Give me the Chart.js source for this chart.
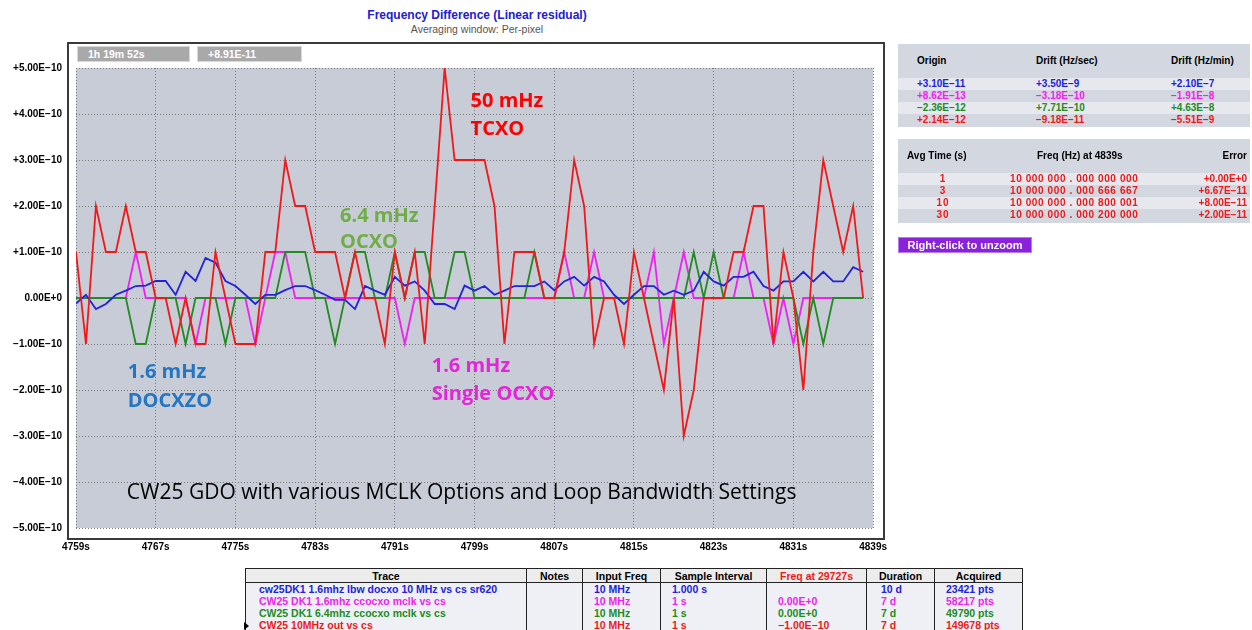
<!DOCTYPE html>
<html>
<head>
<meta charset="utf-8">
<script src="https://cdn.jsdelivr.net/npm/chart.js@4.4.1/dist/chart.umd.min.js"></script>
<style>
  body { margin: 0; width: 1252px; height: 630px; background: #fff; position: relative; overflow: hidden;
         font-family: "Liberation Sans", Arial, sans-serif; }
  .abs { position: absolute; white-space: pre; }
  .b { font-weight: bold; font-size: 10px; line-height: 12px; }
  #frame { position: absolute; left: 67px; top: 42px; width: 818px; height: 498px; box-sizing: border-box;
           border: 2px solid #3a3a3a; background: #fff; }
  #plot { position: absolute; left: 0; top: 0; }
  .chip { position: absolute; top: 46px; height: 16px; box-sizing: border-box; background: #a9a9a9;
          border: 1px solid #d8d8d8; color: #fff; font: bold 10.5px/14px "Liberation Sans", Arial, sans-serif; padding-left: 10px; }
  .panel { position: absolute; left: 898px; width: 352px; background: #d3d7e0; }
  .band { position: absolute; left: 0; width: 352px; height: 12px; background: #e6e8ee; }
  #btn { position: absolute; left: 898px; top: 237px; width: 134px; height: 16px; box-sizing: border-box;
         background: #8a22dc; border: 1px solid #b47cf0; color: #fff; font: bold 11px/14px "Liberation Sans", Arial, sans-serif; text-align: center; }
  table { position: absolute; left: 245px; top: 568px; border-collapse: collapse; table-layout: fixed;
          font: bold 10.5px "Liberation Sans", Arial, sans-serif; }
  th, td { border-left: 1px solid #222; border-right: 1px solid #222; padding: 0 0 0 11px; white-space: nowrap; overflow: hidden; }
  th { height: 13px; background: #ececec; color: #000; text-align: center; padding: 0; border: 1px solid #222; }
  td { height: 12px; line-height: 12px; background: #eef0f6; }
</style>
</head>
<body>
<div class="abs" style="left:0;width:954px;top:8px;text-align:center;color:#2020d0;font:bold 12px 'Liberation Sans',Arial,sans-serif;">Frequency Difference (Linear residual)</div>
<div class="abs" style="left:0;width:954px;top:23px;text-align:center;color:#555;font:10.5px 'Liberation Sans',Arial,sans-serif;">Averaging window: Per-pixel</div>

<div id="frame"></div>
<canvas id="plot" width="900" height="560"></canvas>
<div class="chip" style="left:77px;width:113px;">1h 19m 52s</div>
<div class="chip" style="left:197px;width:105px;">+8.91E-11</div>

<div class="panel" style="top:44px;height:83px;">
  <div class="band" style="top:34px;"></div>
  <div class="band" style="top:58px;"></div>
</div>
<div class="abs b" style="left:917px;top:55px;">Origin</div>
<div class="abs b" style="left:1036px;top:55px;">Drift (Hz/sec)</div>
<div class="abs b" style="left:1171px;top:55px;">Drift (Hz/min)</div>
<div id="driftRows"></div>

<div class="panel" style="top:139px;height:84px;">
  <div class="band" style="top:34px;"></div>
  <div class="band" style="top:58px;"></div>
</div>
<div class="abs b" style="left:907px;top:150px;">Avg Time (s)</div>
<div class="abs b" style="left:1037px;top:150px;">Freq (Hz) at 4839s</div>
<div class="abs b" style="left:1180px;width:67px;text-align:right;top:150px;">Error</div>
<div id="avgRows"></div>

<div id="btn">Right-click to unzoom</div>

<table id="traces">
  <colgroup><col style="width:281px"><col style="width:56px"><col style="width:78px"><col style="width:106px"><col style="width:100px"><col style="width:68px"><col style="width:88px"></colgroup>
  <thead><tr><th>Trace</th><th>Notes</th><th>Input Freq</th><th>Sample Interval</th><th style="color:#f01818">Freq at 29727s</th><th>Duration</th><th>Acquired</th></tr></thead>
  <tbody></tbody>
</table>
<div class="abs" style="left:244px;top:622px;width:0;height:0;border-top:4px solid transparent;border-bottom:4px solid transparent;border-left:5px solid #000;"></div>

<script>
// seconds on the x axis (one sample per second)
const seconds = [4759,4760,4761,4762,4763,4764,4765,4766,4767,4768,4769,4770,4771,4772,4773,4774,4775,4776,4777,4778,
  4779,4780,4781,4782,4783,4784,4785,4786,4787,4788,4789,4790,4791,4792,4793,4794,4795,4796,4797,4798,
  4799,4800,4801,4802,4803,4804,4805,4806,4807,4808,4809,4810,4811,4812,4813,4814,4815,4816,4817,4818,
  4819,4820,4821,4822,4823,4824,4825,4826,4827,4828,4829,4830,4831,4832,4833,4834,4835,4836,4837,4838];

// frequency difference, in units of 1e-10
const tcxo50 = [1,-1,2,1,1,2,1,1,0,0, -1,0,-1,-1,1,0,-1,-1,-1,1, 1,3,2,2,1,1,1,0,1,0,
  0,-1,1,0,1,-1,2,5,3,3, 3,3,2,-1,1,1,1,0,0,1, 3,2,-1,0,0,-1,1,0,-1,-2,
  0,-3,-2,0,0,0,1,1,2,2, -1,1,0,-2,1,3,2,1,2,0];
const docxo16 = [-0.12,0.07,-0.24,-0.13,0.07,0.16,0.26,0.27,0.37,0.37, 0.07,0.57,0.37,0.87,0.77,0.37,0.26,0.07,-0.13,0.07,
  0.07,0.17,0.26,0.26,0.17,0.07,-0.04,-0.04,-0.24,0.26, 0.16,0.07,0.46,0.27,0.36,0.16,-0.13,-0.13,-0.24,0.27,
  0.16,0.26,0.07,0.16,0.26,0.26,0.26,0.36,0.17,0.36, 0.46,0.27,0.46,0.36,0.07,-0.13,0.07,0.26,0.26,0.07,
  0.16,0.07,0.16,0.57,0.36,0.27,0.46,0.46,0.57,0.26, 0.16,0.36,0.36,0.57,0.36,0.57,0.36,0.36,0.67,0.57];
const ocxo64 = [0,0,0,0,0,0,-1,-1,0,0, 0,-1,0,0,0,-1,0,0,0,0, 0,1,1,1,0,0,-1,0,1,1,
  0,0,1,0,1,1,0,0,1,1, 0,0,0,0,0,0,1,0,0,0, 0,0,0,0,0,0,0,0,0,0,
  0,0,1,0,1,0,0,0,0,0, 0,0,0,-1,0,-1,0,0,0,0];
const ocxo16 = [0,0,0,0,0,0,1,0,0,0, 0,0,-1,0,0,0,0,0,-1,0, 1,1,0,0,0,0,0,0,0,0,
  0,0,0,-1,0,0,0,0,0,0, 0,0,0,0,0,0,0,0,0,1, 0,0,1,0,0,0,0,0,1,-1,
  0,1,0,0,0,0,0,1,0,0, -1,0,-1,0,0,0,0,0,0,0];

const xTicks = [4759,4767,4775,4783,4791,4799,4807,4815,4823,4831,4839];
const yTicks = [5,4,3,2,1,0,-1,-2,-3,-4,-5];
const yTickLabels = ['+5.00E\u221210','+4.00E\u221210','+3.00E\u221210','+2.00E\u221210','+1.00E\u221210','0.00E+0',
  '\u22121.00E\u221210','\u22122.00E\u221210','\u22123.00E\u221210','\u22124.00E\u221210','\u22125.00E\u221210'];

// side panel and trace table text
const driftOrigin = ['+3.10E\u221211','+8.62E\u221213','\u22122.36E\u221212','+2.14E\u221212'];
const driftSec = ['+3.50E\u22129','\u22123.18E\u221210','+7.71E\u221210','\u22129.18E\u221211'];
const driftMin = ['+2.10E\u22127','\u22121.91E\u22128','+4.63E\u22128','\u22125.51E\u22129'];
const avgTimes = ['1','3','10','30'];
const avgFreqs = ['10 000 000 . 000 000 000','10 000 000 . 000 666 667','10 000 000 . 000 800 001','10 000 000 . 000 200 000'];
const avgErrors = ['+0.00E+0','+6.67E\u221211','+8.00E\u221211','+2.00E\u221211'];
const traceNames = ['cw25DK1 1.6mhz lbw docxo 10 MHz vs cs sr620','CW25 DK1  1.6mhz ccocxo mclk vs cs','CW25 DK1  6.4mhz ccocxo mclk vs cs','CW25 10MHz out vs cs'];
const traceInput = ['10 MHz','10 MHz','10 MHz','10 MHz'];
const traceInterval = ['1.000 s','1 s','1 s','1 s'];
const traceFreq = ['','0.00E+0','0.00E+0','\u22121.00E\u221210'];
const traceDuration = ['10 d','7 d','7 d','7 d'];
const traceAcquired = ['23421 pts','58217 pts','49790 pts','149678 pts'];

const colBlue = '#2222dd', colMag = '#f020f0', colGreen = '#228b22', colRed = '#f01818';
const rowColors = [colBlue, colMag, colGreen, colRed];

let html = '';
for (let i = 0; i < 4; i++) {
  const top = 78 + i * 12;
  html += `<div class="abs b" style="left:917px;top:${top}px;color:${rowColors[i]}">${driftOrigin[i]}</div>`;
  html += `<div class="abs b" style="left:1036px;top:${top}px;color:${rowColors[i]}">${driftSec[i]}</div>`;
  html += `<div class="abs b" style="left:1171px;top:${top}px;color:${rowColors[i]}">${driftMin[i]}</div>`;
}
document.getElementById('driftRows').innerHTML = html;

html = '';
for (let i = 0; i < 4; i++) {
  const top = 173 + i * 12;
  html += `<div class="abs b" style="left:923px;width:40px;text-align:center;top:${top}px;color:${colRed};letter-spacing:1px">${avgTimes[i]}</div>`;
  html += `<div class="abs b" style="left:1010px;top:${top}px;color:${colRed};letter-spacing:0.6px">${avgFreqs[i]}</div>`;
  html += `<div class="abs b" style="left:1170px;width:77px;text-align:right;top:${top}px;color:${colRed}">${avgErrors[i]}</div>`;
}
document.getElementById('avgRows').innerHTML = html;

html = '';
for (let i = 0; i < 4; i++) {
  const c = rowColors[i];
  html += `<tr style="color:${c}"><td style="padding-left:13px">${traceNames[i]}</td><td></td><td>${traceInput[i]}</td><td>${traceInterval[i]}</td><td>${traceFreq[i]}</td><td style="padding-left:14px">${traceDuration[i]}</td><td>${traceAcquired[i]}</td></tr>`;
}
document.querySelector('#traces tbody').innerHTML = html;

// text written on the plot, anchored in data units (left, baseline)
const notes = [
  { text: '50 mHz', color: '#ff0000', x: 4798.6, y: 4.15, font: 'bold 20px "Open Sans"' },
  { text: 'TCXO', color: '#ff0000', x: 4798.6, y: 3.54, font: 'bold 20px "Open Sans"' },
  { text: '6.4 mHz', color: '#70ad47', x: 4785.5, y: 1.65, font: 'bold 20px "Open Sans"' },
  { text: 'OCXO', color: '#70ad47', x: 4785.5, y: 1.08, font: 'bold 20px "Open Sans"' },
  { text: '1.6 mHz', color: '#2476c4', x: 4764.2, y: -1.74, font: 'bold 20px "Open Sans"' },
  { text: 'DOCXZO', color: '#2476c4', x: 4764.2, y: -2.36, font: 'bold 20px "Open Sans"' },
  { text: '1.6 mHz', color: '#e424d8', x: 4794.7, y: -1.61, font: 'bold 20px "Open Sans"' },
  { text: 'Single OCXO', color: '#e424d8', x: 4794.7, y: -2.22, font: 'bold 20px "Open Sans"' },
  { text: 'CW25 GDO with various MCLK Options and Loop Bandwidth Settings', color: '#000', x: 4764.1, y: -4.37, font: '21px "Open Sans"' }
];

const plotBg = {
  id: 'plotBg',
  beforeDraw(chart) {
    const a = chart.chartArea, ctx = chart.ctx;
    ctx.save();
    ctx.fillStyle = '#c8ccd7';
    ctx.fillRect(a.left, a.top, a.right - a.left, a.bottom - a.top);
    ctx.restore();
  }
};

const plotNotes = {
  id: 'plotNotes',
  afterDatasetsDraw(chart) {
    const ctx = chart.ctx, xs = chart.scales.x, ys = chart.scales.y;
    ctx.save();
    ctx.textBaseline = 'alphabetic';
    ctx.textAlign = 'left';
    notes.forEach(n => {
      ctx.font = n.font;
      ctx.fillStyle = n.color;
      ctx.fillText(n.text, xs.getPixelForValue(n.x), ys.getPixelForValue(n.y));
    });
    ctx.restore();
  }
};

const line = (data, color) => ({
  data: seconds.map((s, i) => ({ x: s, y: data[i] })),
  borderColor: color,
  borderWidth: 1.8,
  pointRadius: 0,
  tension: 0,
  fill: false
});

new Chart(document.getElementById('plot'), {
  type: 'line',
  data: {
    datasets: [
      line(tcxo50, colRed),
      line(docxo16, colBlue),
      line(ocxo64, colGreen),
      line(ocxo16, colMag)
    ]
  },
  options: {
    responsive: false,
    animation: false,
    devicePixelRatio: 1,
    layout: { padding: { top: 68, right: 24, left: 0, bottom: 0 } },
    plugins: { legend: { display: false }, tooltip: { enabled: false } },
    scales: {
      x: {
        type: 'linear', min: 4759, max: 4839,
        afterBuildTicks: s => { s.ticks = xTicks.map(v => ({ value: v })); },
        afterFit: s => { s.height = 32; },
        ticks: { callback: v => v + 's', color: '#000', font: { family: 'Liberation Sans', size: 10, weight: 'bold' },
                 padding: 13, maxRotation: 0, autoSkip: false },
        grid: { color: '#7a7a7a', lineWidth: 1, drawTicks: false },
        border: { display: false, dash: [1, 2] }
      },
      y: {
        min: -5, max: 5,
        afterBuildTicks: s => { s.ticks = yTicks.map(v => ({ value: v })); },
        afterFit: s => { s.width = 76; },
        ticks: { callback: v => yTickLabels[yTicks.indexOf(v)], color: '#000',
                 font: { family: 'Liberation Sans', size: 10, weight: 'bold' }, padding: 14, autoSkip: false },
        grid: { color: '#7a7a7a', lineWidth: 1, drawTicks: false },
        border: { display: false, dash: [1, 2] }
      }
    }
  },
  plugins: [plotBg, plotNotes]
});
</script>
</body>
</html>
